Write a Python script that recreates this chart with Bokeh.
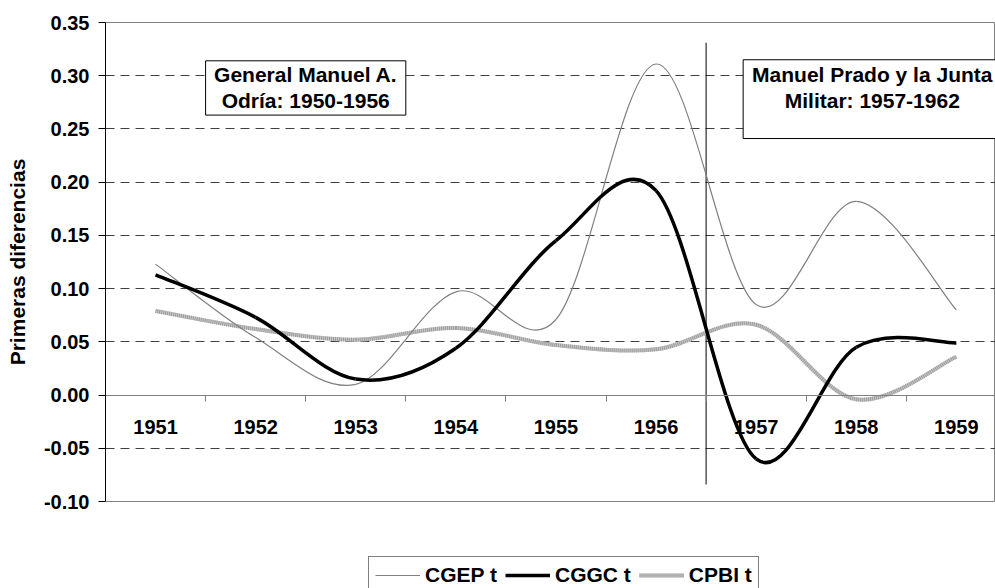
from bokeh.plotting import figure
from bokeh.layouts import column
from bokeh.models import (Range1d, LinearAxis, FixedTicker, NumeralTickFormatter,
                          BoxAnnotation, Label, Legend, LegendItem, ColumnDataSource)
from bokeh.embed import file_html
from bokeh.resources import INLINE

# ---------------- data ----------------
years = ["1951", "1952", "1953", "1954", "1955", "1956", "1957", "1958", "1959"]
cgep = [0.123, 0.054, 0.010, 0.097, 0.071, 0.311, 0.085, 0.182, 0.080]
cggc = [0.113, 0.073, 0.015, 0.044, 0.145, 0.192, -0.060, 0.045, 0.049]
cpbi = [0.079, 0.062, 0.052, 0.063, 0.047, 0.043, 0.066, -0.004, 0.036]
series_names = ["CGEP t", "CGGC t", "CPBI t"]

y_ticks = [-0.10, -0.05, 0.00, 0.05, 0.10, 0.15, 0.20, 0.25, 0.30, 0.35]
grid_ticks = [-0.05, 0.05, 0.10, 0.15, 0.20, 0.25, 0.30]

period_1 = ["General Manuel A.", "Odría: 1950-1956"]
period_2 = ["Manuel Prado y la Junta", "Militar: 1957-1962"]
split_year_index = 6          # boundary between 1956 and 1957
split_top, split_bottom = 0.331, -0.084

FONT = "Liberation Sans"

# category centres on a numeric axis
xc = [i + 0.5 for i in range(len(years))]


def smooth_source(vals):
    """Excel-like smoothed line: Catmull-Rom control points for bezier glyphs."""
    n = len(vals)
    d = dict(x0=[], y0=[], x1=[], y1=[], cx0=[], cy0=[], cx1=[], cy1=[])
    for i in range(n - 1):
        im, ip2 = max(i - 1, 0), min(i + 2, n - 1)
        d["x0"].append(xc[i]); d["y0"].append(vals[i])
        d["x1"].append(xc[i + 1]); d["y1"].append(vals[i + 1])
        d["cx0"].append(xc[i] + (xc[i + 1] - xc[im]) / 6)
        d["cy0"].append(vals[i] + (vals[i + 1] - vals[im]) / 6)
        d["cx1"].append(xc[i + 1] - (xc[ip2] - xc[i]) / 6)
        d["cy1"].append(vals[i + 1] - (vals[ip2] - vals[i]) / 6)
    return ColumnDataSource(d)


styles = {
    "cgep": [dict(line_color="#808080", line_width=1.2)],
    "cggc": [dict(line_color="black", line_width=3.5)],
    "cpbi": [dict(line_color="#c6c6c6", line_width=4),
             dict(line_color="#9c9c9c", line_width=4, line_dash="1 1")],
}
BZ = dict(x0="x0", y0="y0", x1="x1", y1="y1", cx0="cx0", cy0="cy0", cx1="cx1", cy1="cy1")


def draw_series(fig):
    out = {}
    for key, vals in (("cpbi", cpbi), ("cgep", cgep), ("cggc", cggc)):
        src = smooth_source(vals)
        out[key] = [fig.bezier(source=src, **BZ, **st) for st in styles[key]]
    return out


p = figure(width=995, height=550,
           x_range=Range1d(0, 8.891), y_range=Range1d(-0.10, 0.35),
           output_backend="svg", toolbar_location=None,
           x_axis_type=None,
           min_border_left=105, min_border_right=0,
           min_border_top=22, min_border_bottom=49)
p.background_fill_color = "white"
p.border_fill_color = "white"
p.outline_line_color = "#808080"
p.outline_line_width = 1

# y axis
p.yaxis.ticker = FixedTicker(ticks=y_ticks)
p.yaxis.formatter = NumeralTickFormatter(format="0.00")
p.yaxis.axis_line_color = "black"
p.yaxis.major_tick_line_color = "black"
p.yaxis.major_tick_out = 7
p.yaxis.major_tick_in = 0
p.yaxis.minor_tick_line_color = None
p.yaxis.major_label_standoff = 9
p.yaxis.major_label_text_font = FONT
p.yaxis.major_label_text_font_size = "20px"
p.yaxis.major_label_text_font_style = "bold"
p.yaxis.major_label_text_color = "black"
p.yaxis.axis_label = "Primeras diferencias"
p.yaxis.axis_label_text_font = FONT
p.yaxis.axis_label_text_font_size = "21px"
p.yaxis.axis_label_text_font_style = "bold"
p.yaxis.axis_label_text_color = "black"
p.yaxis.axis_label_standoff = 12

# horizontal dashed grid
p.ygrid.ticker = FixedTicker(ticks=grid_ticks)
p.ygrid.grid_line_color = "#404040"
p.ygrid.grid_line_dash = "9 6"
p.ygrid.grid_line_width = 1
for g in p.xgrid:
    g.visible = False

# category axis crossing at y = 0
label_axis = LinearAxis(fixed_location=0,
                        ticker=FixedTicker(ticks=xc),
                        major_label_overrides={x: y for x, y in zip(xc, years)},
                        axis_line_color=None, major_tick_line_color=None,
                        minor_tick_line_color=None,
                        major_label_standoff=19,
                        major_label_text_font=FONT,
                        major_label_text_font_size="20px",
                        major_label_text_font_style="bold",
                        major_label_text_color="black")
tick_axis = LinearAxis(fixed_location=0,
                       ticker=FixedTicker(ticks=list(range(0, len(years) + 1))),
                       axis_line_color="#808080", axis_line_width=1,
                       major_tick_line_color="#808080",
                       major_tick_out=6, major_tick_in=0,
                       minor_tick_line_color=None,
                       major_label_text_color=None)
p.add_layout(label_axis, "below")
p.add_layout(tick_axis, "below")

# separator between periods
p.segment(x0=[split_year_index], y0=[split_bottom], x1=[split_year_index], y1=[split_top],
          line_color="black", line_width=1)

draw_series(p)

# period boxes
p.add_layout(BoxAnnotation(left=1.0, right=3.0, top=0.314, bottom=0.263,
                           fill_color="white", fill_alpha=1.0,
                           line_color="black", line_width=1, line_alpha=1.0))
p.add_layout(BoxAnnotation(left=6.37, right=8.96, top=0.315, bottom=0.241,
                           fill_color="white", fill_alpha=1.0,
                           line_color="black", line_width=1, line_alpha=1.0))
for cx, lines in ((2.0, period_1), (7.66, period_2)):
    for k, txt in enumerate(lines):
        p.add_layout(Label(x=cx, y=0.301 - 0.0245 * k, text=txt,
                           text_align="center", text_baseline="middle",
                           text_font=FONT, text_font_size="21px",
                           text_font_style="bold", text_color="black"))

# ---------------- legend strip (separate canvas below the chart) ----------------
pl = figure(width=995, height=38, x_range=Range1d(100, 101), y_range=Range1d(100, 101),
            output_backend="svg", toolbar_location=None,
            x_axis_type=None, y_axis_type=None,
            min_border_left=0, min_border_right=0, min_border_top=0, min_border_bottom=0)
pl.outline_line_color = None
pl.background_fill_color = "white"
pl.border_fill_color = "white"
leg_r = draw_series(pl)

legend = Legend(items=[LegendItem(label=series_names[0], renderers=leg_r["cgep"]),
                       LegendItem(label=series_names[1], renderers=leg_r["cggc"]),
                       LegendItem(label=series_names[2], renderers=leg_r["cpbi"])],
                orientation="horizontal", location=(263, -6),
                border_line_color="black", border_line_width=1,
                background_fill_color="white", background_fill_alpha=1.0,
                label_text_font=FONT, label_text_font_size="21px",
                label_text_font_style="bold", label_text_color="black",
                glyph_width=45, glyph_height=20, label_standoff=5,
                spacing=8, padding=6, margin=0)
pl.add_layout(legend, "center")

layout = column(p, pl, spacing=0)
open("out.html", "w").write(file_html(layout, INLINE))
